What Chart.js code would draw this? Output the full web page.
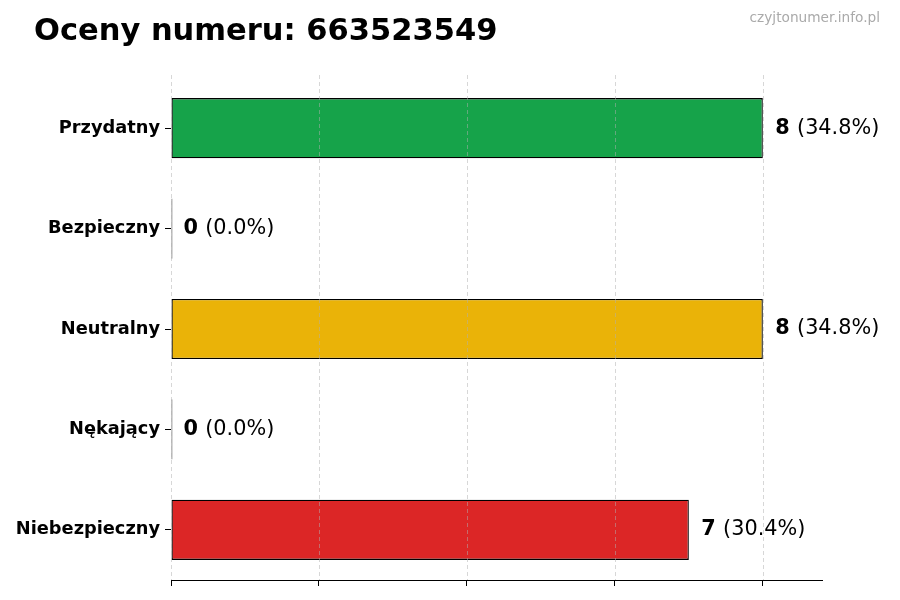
<!DOCTYPE html>
<html>
<head>
<meta charset="utf-8">
<script src="https://cdn.jsdelivr.net/npm/chart.js@4.4.0/dist/chart.umd.min.js"></script>
<style>
  body { margin: 0; background: #fff; }
  #wrap { width: 900px; height: 600px; }
</style>
</head>
<body>
<div id="wrap"><canvas id="myChart" width="900" height="600"></canvas></div>
<script>
const labels = ['Przydatny', 'Bezpieczny', 'Neutralny', 'Nękający', 'Niebezpieczny'];
const values = [8, 0, 8, 0, 7];
const barColors = ['#16a34a', '#2563eb', '#eab308', '#f97316', '#dc2626'];
const xTicks = [0, 2, 4, 6, 8];

const total = values.reduce((a, b) => a + b, 0);
const FONT = "'DejaVu Sans', sans-serif";

// tytul i znak wodny
const napisy = {
    id: 'napisy',
    afterDraw(chart) {
        const c = chart.ctx;
        c.save();
        c.fillStyle = '#000';
        c.font = 'bold 30.5px ' + FONT;
        c.textBaseline = 'middle';
        c.textAlign = 'left';
        c.fillText('Oceny numeru: 663523549', 34, 32);
        c.fillStyle = '#aaaaaa';
        c.font = '13.7px ' + FONT;
        c.textAlign = 'right';
        c.fillText('czyjtonumer.info.pl', 880, 18);
        c.restore();
    }
};

// przerywana siatka nad slupkami + etykiety wartosci
const siatka = {
    id: 'siatka',
    afterDatasetsDraw(chart) {
        const c = chart.ctx;
        const area = chart.chartArea;
        const x = chart.scales.x;
        c.save();
        c.strokeStyle = 'rgba(176,176,176,0.5)';
        c.lineWidth = 1;
        c.setLineDash([4, 3]);
        xTicks.forEach(v => {
            const px = Math.round(x.getPixelForValue(v)) + 0.5;
            c.beginPath();
            c.moveTo(px, area.top - 3);
            c.lineTo(px, area.bottom);
            c.stroke();
        });
        c.setLineDash([]);

        const meta = chart.getDatasetMeta(0);
        c.textBaseline = 'middle';
        c.textAlign = 'left';
        c.fillStyle = '#000';
        meta.data.forEach((bar, i) => {
            const v = values[i];
            const end = x.getPixelForValue(v);
            const tx = end + 12.5;
            c.font = 'bold 20.8px ' + FONT;
            const s1 = String(v);
            c.fillText(s1, tx, bar.y);
            const w1 = c.measureText(s1 + ' ').width;
            c.font = '20.8px ' + FONT;
            const pct = total ? (v / total * 100).toFixed(1) : '0.0';
            c.fillText('(' + pct + '%)', tx + w1, bar.y);
        });
        c.restore();
    }
};

const ctx = document.getElementById('myChart').getContext('2d');
new Chart(ctx, {
    type: 'bar',
    data: {
        labels: labels,
        datasets: [{
            data: values,
            backgroundColor: barColors,
            borderColor: '#000',
            borderWidth: 1.3,
            borderSkipped: false,
            minBarLength: 1.4,
            barPercentage: 0.6,
            categoryPercentage: 1.0
        }]
    },
    options: {
        indexAxis: 'y',
        responsive: false,
        animation: false,
        devicePixelRatio: 1,
        layout: { padding: { left: 0, right: 78, top: 78, bottom: 0 } },
        plugins: {
            legend: { display: false },
            tooltip: { enabled: false }
        },
        scales: {
            x: {
                min: 0,
                max: 8.8,
                afterBuildTicks: s => { s.ticks = xTicks.map(v => ({ value: v })); },
                afterFit: s => { s.height = 20; },
                ticks: { display: false },
                grid: {
                    color: 'transparent',
                    tickColor: '#000',
                    tickLength: 6,
                    drawTicks: true
                },
                border: { display: true, color: '#000', width: 1 }
            },
            y: {
                afterFit: s => { s.width = 171; },
                ticks: {
                    color: '#000',
                    padding: 5,
                    font: { family: FONT, size: 17.8, weight: 'bold' }
                },
                grid: {
                    offset: false,
                    color: 'transparent',
                    tickColor: '#000',
                    tickLength: 6,
                    drawTicks: true
                },
                border: { display: false }
            }
        }
    },
    plugins: [siatka, napisy]
});
</script>
</body>
</html>
